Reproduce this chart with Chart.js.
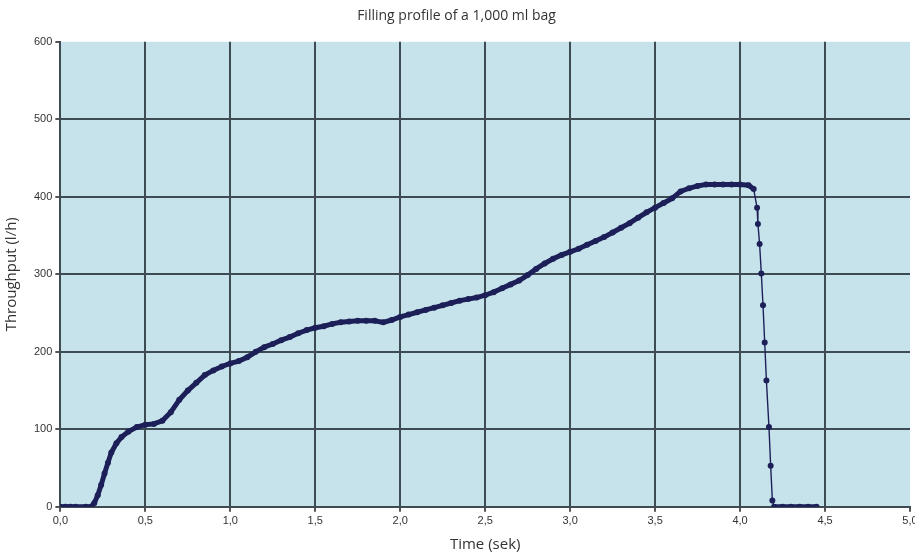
<!DOCTYPE html>
<html>
<head>
<meta charset="utf-8">
<script src="https://cdn.jsdelivr.net/npm/chart.js@4"></script>
<style>
  html, body { margin: 0; padding: 0; background: #fff; }
  #wrap { width: 915px; height: 556px; }
</style>
</head>
<body>
<div id="wrap"><canvas id="chart"></canvas></div>
<script>
const times = [
  0.00, 0.03, 0.06, 0.09, 0.15, 0.18, 0.20, 0.22, 0.24, 0.26, 0.28, 0.30, 0.33, 0.36, 0.40,
  0.45, 0.50, 0.55, 0.60, 0.65, 0.70, 0.75, 0.80, 0.85, 0.90, 0.95, 1.00, 1.05, 1.10, 1.15,
  1.20, 1.25, 1.30, 1.35, 1.40, 1.45, 1.50, 1.55, 1.60, 1.65, 1.70, 1.75, 1.80, 1.85, 1.90,
  1.95, 2.00, 2.05, 2.10, 2.15, 2.20, 2.25, 2.30, 2.35, 2.40, 2.45, 2.50, 2.55, 2.60, 2.65,
  2.70, 2.75, 2.80, 2.85, 2.90, 2.95, 3.00, 3.05, 3.10, 3.15, 3.20, 3.25, 3.30, 3.35, 3.40,
  3.45, 3.50, 3.55, 3.60, 3.65, 3.70, 3.75, 3.80, 3.85, 3.90, 3.95, 4.00, 4.05, 4.08, 4.10,
  4.105, 4.115, 4.125, 4.135, 4.145, 4.155, 4.17, 4.18, 4.19, 4.20, 4.25, 4.30, 4.35, 4.40, 4.45
];
const throughput = [
  0, 0, 0, 0, 0, 0, 5, 15, 28, 43, 57, 70, 82, 90, 97,
  103, 106, 107, 111, 122, 138, 150, 160, 170, 176, 181, 185, 188, 193, 200,
  206, 210, 215, 219, 224, 228, 231, 233, 236, 238, 239, 240, 240, 240, 238,
  241, 245, 248, 251, 254, 257, 260, 263, 266, 268, 270, 273, 277, 282, 287,
  292, 299, 307, 314, 320, 325, 329, 333, 338, 343, 348, 354, 360, 366, 373,
  380, 386, 392, 398, 407, 411, 414, 416, 416, 416, 416, 416, 415, 410, 386,
  365, 339, 301, 260, 212, 163, 103, 53, 8, 0, 0, 0, 0, 0, 0
];
const xTicks = [0, 0.5, 1, 1.5, 2, 2.5, 3, 3.5, 4, 4.5, 5];
const yTicks = [0, 100, 200, 300, 400, 500, 600];

const plotBg = {
  id: "plotBg",
  beforeDraw(c) {
    const a = c.chartArea;
    c.ctx.save();
    c.ctx.fillStyle = "#c6e3eb";
    c.ctx.fillRect(a.left, a.top, a.right - a.left, a.bottom - a.top);
    c.ctx.restore();
  }
};

const gridColor = "#3f4b52";

new Chart(document.getElementById("chart"), {
  type: "scatter",
  data: {
    datasets: [{
      data: times.map((t, i) => ({ x: t, y: throughput[i] })),
      showLine: true,
      borderColor: "#1d1f58",
      backgroundColor: "#1d1f58",
      borderWidth: 5,
      pointRadius: 3,
      pointHoverRadius: 3,
      pointBorderWidth: 0,
      segment: {
        borderWidth: ctx => ctx.p0.parsed.x >= 4.08 && ctx.p1.parsed.x <= 4.2 ? 1.4 : 5
      }
    }]
  },
  plugins: [plotBg],
  options: {
    responsive: true,
    maintainAspectRatio: false,
    animation: false,
    layout: { padding: { top: 0, right: 5, left: 3, bottom: 2 } },
    plugins: {
      legend: { display: false },
      tooltip: { enabled: false },
      title: {
        display: true,
        text: "Filling profile of a 1,000 ml bag",
        color: "#333",
        font: { family: "Open Sans", size: 14, weight: "normal" },
        padding: { top: 8, bottom: 17 }
      }
    },
    scales: {
      x: {
        type: "linear",
        min: 0,
        max: 5,
        afterBuildTicks: s => { s.ticks = xTicks.map(v => ({ value: v })); },
        afterFit: s => { s.paddingRight = 0; s.paddingLeft = 0; },
        ticks: {
          color: "#333",
          font: { family: "Liberation Sans", size: 11 },
          padding: 3,
          maxRotation: 0,
          callback: v => v.toFixed(1).replace(".", ",")
        },
        grid: {
          color: ctx => ctx.tick && ctx.tick.value === 5 ? "rgba(0,0,0,0)" : gridColor,
          lineWidth: 2,
          tickColor: "#555",
          tickLength: 5
        },
        border: { display: true, color: gridColor, width: 2 },
        title: {
          display: true,
          text: "Time (sek)",
          color: "#333",
          font: { family: "Open Sans", size: 15 },
          padding: { top: 5, bottom: 0 }
        }
      },
      y: {
        min: 0,
        max: 600,
        afterBuildTicks: s => { s.ticks = yTicks.map(v => ({ value: v })); },
        ticks: {
          color: "#333",
          font: { family: "Liberation Sans", size: 11 },
          padding: 3
        },
        grid: {
          color: ctx => ctx.tick && ctx.tick.value === 600 ? "rgba(0,0,0,0)" : gridColor,
          lineWidth: 2,
          tickColor: "#555",
          tickLength: 5
        },
        border: { display: true, color: gridColor, width: 2 },
        title: {
          display: true,
          text: "Throughput (l/h)",
          color: "#333",
          font: { family: "Open Sans", size: 15 },
          padding: { top: 0, bottom: 10 }
        }
      }
    }
  }
});
</script>
</body>
</html>
